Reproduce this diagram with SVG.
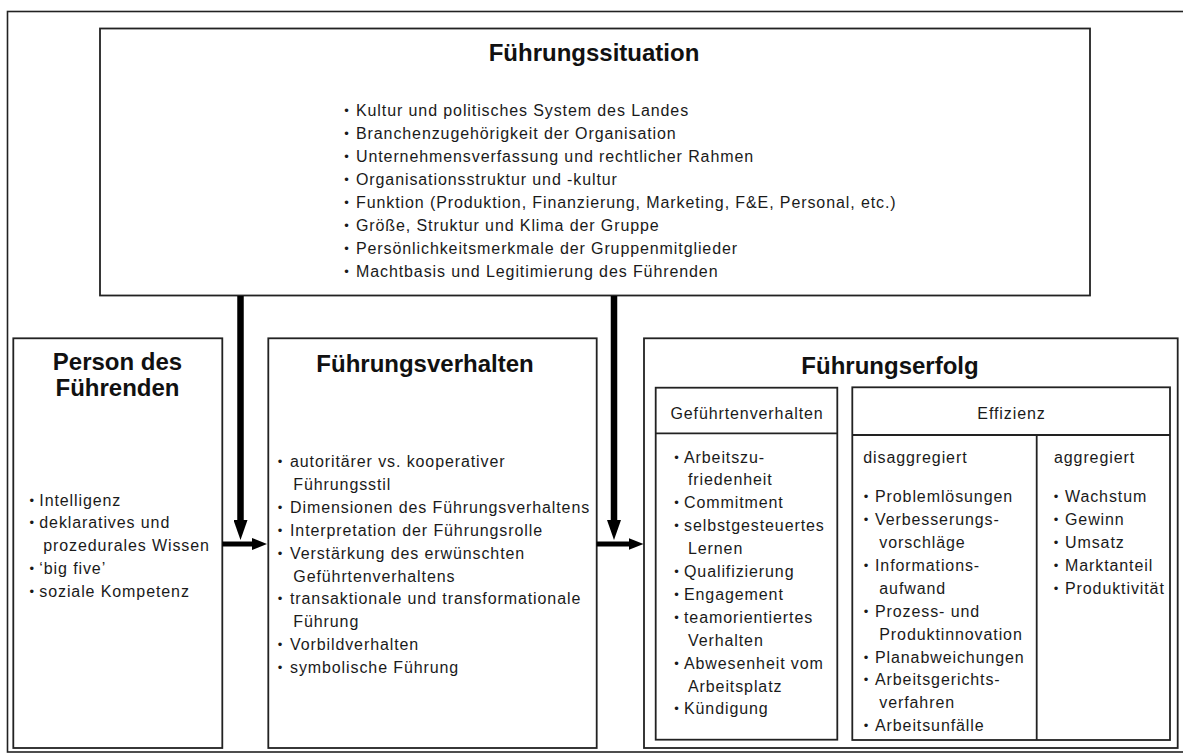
<svg xmlns="http://www.w3.org/2000/svg" width="1183" height="756" viewBox="0 0 1183 756">
  <style>
    .frame { fill: none; stroke: #222; stroke-width: 1.6; }
    .box { fill: #fff; stroke: #222; stroke-width: 1.8; }
    .rule { stroke: #222; stroke-width: 1.8; }
    .t { font-family: "Liberation Sans", Arial, sans-serif; font-size: 16px; letter-spacing: 0.9px; fill: #1a1a1a; }
    .b { font-family: "Liberation Sans", Arial, sans-serif; font-size: 13px; fill: #1a1a1a; text-anchor: middle; }
    .h { font-family: "Liberation Sans", Arial, sans-serif; font-size: 24px; font-weight: bold; fill: #111; text-anchor: middle; }
    .c { text-anchor: middle; }
    .shaft { stroke: #000; fill: none; }
  </style>
  <defs>
    <marker id="headV" markerUnits="userSpaceOnUse" markerWidth="20" markerHeight="14" viewBox="0 0 20 14" refX="1" refY="7" orient="auto">
      <path d="M0,0 L20,7 L0,14 Z" fill="#000"/>
    </marker>
    <marker id="headH" markerUnits="userSpaceOnUse" markerWidth="15" markerHeight="12" viewBox="0 0 15 12" refX="1" refY="6" orient="auto">
      <path d="M0,0 L15,6 L0,12 Z" fill="#000"/>
    </marker>
  </defs>

  <rect width="1183" height="756" fill="#fff"/>
  <!-- surrounding frame -->
  <rect class="frame" x="7.5" y="11.5" width="1185" height="740.5"/>

  <!-- leadership situation -->
  <g id="fuehrungssituation">
    <rect class="box" x="100" y="28.5" width="990" height="267"/>
    <text class="h" x="594" y="60.5">Führungssituation</text>
    <g>
      <text class="b" x="346.5" y="114.5">•</text>
      <text class="t" x="356" y="115.5">Kultur und politisches System des Landes</text>
      <text class="b" x="346.5" y="137.5">•</text>
      <text class="t" x="356" y="138.5">Branchenzugehörigkeit der Organisation</text>
      <text class="b" x="346.5" y="160.5">•</text>
      <text class="t" x="356" y="161.5">Unternehmensverfassung und rechtlicher Rahmen</text>
      <text class="b" x="346.5" y="183.5">•</text>
      <text class="t" x="356" y="184.5">Organisationsstruktur und -kultur</text>
      <text class="b" x="346.5" y="206.5">•</text>
      <text class="t" x="356" y="207.5">Funktion (Produktion, Finanzierung, Marketing, F&amp;E, Personal, etc.)</text>
      <text class="b" x="346.5" y="229.5">•</text>
      <text class="t" x="356" y="230.5">Größe, Struktur und Klima der Gruppe</text>
      <text class="b" x="346.5" y="252.5">•</text>
      <text class="t" x="356" y="253.5">Persönlichkeitsmerkmale der Gruppenmitglieder</text>
      <text class="b" x="346.5" y="275.5">•</text>
      <text class="t" x="356" y="276.5">Machtbasis und Legitimierung des Führenden</text>
    </g>
  </g>

  <!-- person of the leader -->
  <g id="person">
    <rect class="box" x="13.3" y="338.3" width="209" height="409.7"/>
    <text class="h" x="117.5" y="369.5">Person des</text>
    <text class="h" x="117.5" y="395.5">Führenden</text>
    <text class="b" x="31.7" y="504.5">•</text>
    <text class="t" x="39.3" y="505.5">Intelligenz</text>
    <text class="b" x="31.7" y="527.4">•</text>
    <text class="t" x="39.3" y="528.4">deklaratives und</text>
    <text class="t" x="43.3" y="551.3">prozedurales Wissen</text>
    <text class="b" x="31.7" y="573.2">•</text>
    <text class="t" x="39.3" y="574.2">‘big five’</text>
    <text class="b" x="31.7" y="596.1">•</text>
    <text class="t" x="39.3" y="597.1">soziale Kompetenz</text>
  </g>

  <!-- leadership behaviour -->
  <g id="fuehrungsverhalten">
    <rect class="box" x="268.3" y="338.3" width="328.4" height="409.7"/>
    <text class="h" x="425" y="371.5">Führungsverhalten</text>
    <text class="b" x="280" y="466">•</text>
    <text class="t" x="290" y="467">autoritärer vs. kooperativer</text>
    <text class="t" x="293.3" y="489.9">Führungsstil</text>
    <text class="b" x="280" y="511.8">•</text>
    <text class="t" x="290" y="512.8">Dimensionen des Führungsverhaltens</text>
    <text class="b" x="280" y="534.7">•</text>
    <text class="t" x="290" y="535.7">Interpretation der Führungsrolle</text>
    <text class="b" x="280" y="557.6">•</text>
    <text class="t" x="290" y="558.6">Verstärkung des erwünschten</text>
    <text class="t" x="293.3" y="581.5">Geführtenverhaltens</text>
    <text class="b" x="280" y="603.4">•</text>
    <text class="t" x="290" y="604.4">transaktionale und transformationale</text>
    <text class="t" x="293.3" y="627.3">Führung</text>
    <text class="b" x="280" y="649.2">•</text>
    <text class="t" x="290" y="650.2">Vorbildverhalten</text>
    <text class="b" x="280" y="672.1">•</text>
    <text class="t" x="290" y="673.1">symbolische Führung</text>
  </g>

  <!-- leadership success -->
  <g id="fuehrungserfolg">
    <rect class="box" x="644" y="338.3" width="533.7" height="409.7"/>
    <text class="h" x="890" y="373.5">Führungserfolg</text>

    <g id="gefuehrtenverhalten">
      <rect class="box" x="655.7" y="387.7" width="181.6" height="352"/>
      <line class="rule" x1="655.7" y1="433.3" x2="837.3" y2="433.3"/>
      <text class="t c" x="747" y="419">Geführtenverhalten</text>
      <text class="b" x="676.5" y="461.5">•</text>
      <text class="t" x="684" y="462.5">Arbeitszu-</text>
      <text class="t" x="688" y="485.4">friedenheit</text>
      <text class="b" x="676.5" y="507.3">•</text>
      <text class="t" x="684" y="508.3">Commitment</text>
      <text class="b" x="676.5" y="530.2">•</text>
      <text class="t" x="684" y="531.2">selbstgesteuertes</text>
      <text class="t" x="688" y="554.1">Lernen</text>
      <text class="b" x="676.5" y="576">•</text>
      <text class="t" x="684" y="577">Qualifizierung</text>
      <text class="b" x="676.5" y="598.9">•</text>
      <text class="t" x="684" y="599.9">Engagement</text>
      <text class="b" x="676.5" y="621.8">•</text>
      <text class="t" x="684" y="622.8">teamorientiertes</text>
      <text class="t" x="688" y="645.7">Verhalten</text>
      <text class="b" x="676.5" y="667.6">•</text>
      <text class="t" x="684" y="668.6">Abwesenheit vom</text>
      <text class="t" x="688" y="691.5">Arbeitsplatz</text>
      <text class="b" x="676.5" y="713.4">•</text>
      <text class="t" x="684" y="714.4">Kündigung</text>
    </g>

    <g id="effizienz">
      <rect class="box" x="852.3" y="387.3" width="317.7" height="352.7"/>
      <line class="rule" x1="852.3" y1="435" x2="1170" y2="435"/>
      <line class="rule" x1="1036.7" y1="435" x2="1036.7" y2="740"/>
      <text class="t c" x="1011.5" y="419">Effizienz</text>

      <text class="t" x="863.3" y="463">disaggregiert</text>
      <text class="b" x="866" y="501.2">•</text>
      <text class="t" x="875" y="502.2">Problemlösungen</text>
      <text class="b" x="866" y="524.1">•</text>
      <text class="t" x="875" y="525.1">Verbesserungs-</text>
      <text class="t" x="879.3" y="548">vorschläge</text>
      <text class="b" x="866" y="569.9">•</text>
      <text class="t" x="875" y="570.9">Informations-</text>
      <text class="t" x="879.3" y="593.8">aufwand</text>
      <text class="b" x="866" y="615.7">•</text>
      <text class="t" x="875" y="616.7">Prozess- und</text>
      <text class="t" x="879.3" y="639.6">Produktinnovation</text>
      <text class="b" x="866" y="661.5">•</text>
      <text class="t" x="875" y="662.5">Planabweichungen</text>
      <text class="b" x="866" y="684.4">•</text>
      <text class="t" x="875" y="685.4">Arbeitsgerichts-</text>
      <text class="t" x="879.3" y="708.3">verfahren</text>
      <text class="b" x="866" y="730.2">•</text>
      <text class="t" x="875" y="731.2">Arbeitsunfälle</text>

      <text class="t" x="1054" y="463">aggregiert</text>
      <text class="b" x="1056" y="501.2">•</text>
      <text class="t" x="1065" y="502.2">Wachstum</text>
      <text class="b" x="1056" y="524.1">•</text>
      <text class="t" x="1065" y="525.1">Gewinn</text>
      <text class="b" x="1056" y="547">•</text>
      <text class="t" x="1065" y="548">Umsatz</text>
      <text class="b" x="1056" y="569.9">•</text>
      <text class="t" x="1065" y="570.9">Marktanteil</text>
      <text class="b" x="1056" y="592.8">•</text>
      <text class="t" x="1065" y="593.8">Produktivität</text>
    </g>
  </g>

  <!-- influence arrows -->
  <g id="connectors">
    <line class="shaft" x1="240.5" y1="296" x2="240.5" y2="521" stroke-width="6.5" marker-end="url(#headV)"/>
    <line class="shaft" x1="614" y1="296" x2="614" y2="521" stroke-width="6.5" marker-end="url(#headV)"/>
    <line class="shaft" x1="222.3" y1="544" x2="253" y2="544" stroke-width="5" marker-end="url(#headH)"/>
    <line class="shaft" x1="596.7" y1="544" x2="629.5" y2="544" stroke-width="5" marker-end="url(#headH)"/>
  </g>
</svg>
